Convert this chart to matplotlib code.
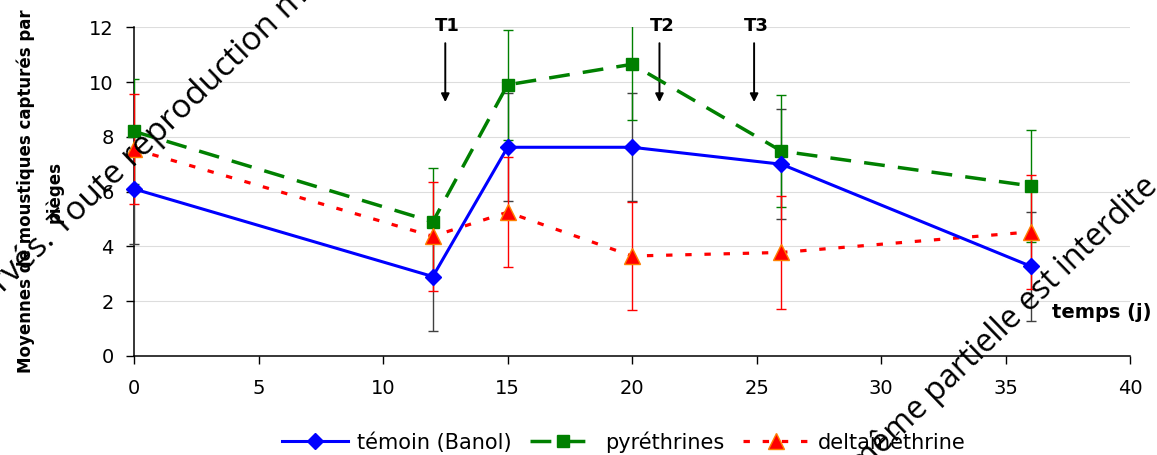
import matplotlib.pyplot as plt

# Mean mosquito catches per trap over time for the three treatments
jours = [0, 12, 15, 20, 26, 36]

temoin = [6.1, 2.9, 7.62, 7.62, 7.0, 3.28]
temoin_err = [2.0, 1.98, 1.97, 1.97, 2.0, 1.99]

pyrethrines = [8.2, 4.9, 9.9, 10.65, 7.48, 6.21]
pyrethrines_err = [1.93, 1.95, 2.0, 2.05, 2.05, 2.04]

deltamethrine = [7.55, 4.37, 5.25, 3.65, 3.78, 4.53]
deltamethrine_err = [2.0, 2.0, 2.0, 1.97, 2.06, 2.07]

labels = ['témoin (Banol)', 'pyréthrines', 'deltaméthrine']

# Treatment dates (arrows)
traitements = ['T1', 'T2', 'T3']
traitement_x = [12.5, 21.1, 24.9]

fig = plt.figure(figsize=(11.57, 4.55), dpi=100)
ax = fig.add_axes([0.1158, 0.2176, 0.861, 0.7224])

# error bars first, then the series lines on top
ax.errorbar(jours, temoin, yerr=temoin_err, fmt='none', ecolor='#404040',
            elinewidth=1.0, capsize=3.5, capthick=1.0, zorder=3, clip_on=False)
ax.errorbar(jours, pyrethrines, yerr=pyrethrines_err, fmt='none', ecolor='#008000',
            elinewidth=1.0, capsize=3.5, capthick=1.0, zorder=3)
ax.errorbar(jours, deltamethrine, yerr=deltamethrine_err, fmt='none', ecolor='#ff0000',
            elinewidth=1.0, capsize=3.5, capthick=1.0, zorder=3, clip_on=False)

l1, = ax.plot(jours, temoin, color='#0000ff', lw=2.2, marker='D', ms=8.5,
              mfc='#0000ff', mec='#0000ff', zorder=5, clip_on=False)
l2, = ax.plot(jours, pyrethrines, color='#008000', lw=2.5, linestyle=(0, (6, 3.8)),
              marker='s', ms=9, mfc='#008000', mec='#008000', zorder=4, clip_on=False)
l3, = ax.plot(jours, deltamethrine, color='#ff0000', lw=2.3, linestyle=(0, (2, 4)),
              marker='^', ms=11, mfc='#ff0000', mec='#ff8000', mew=1.0, zorder=4, clip_on=False)

ax.set_xlim(0, 40)
ax.set_ylim(0, 12)
ax.set_xticks(range(0, 41, 5))
ax.set_yticks(range(0, 13, 2))
ax.tick_params(axis='both', direction='out', length=5.5, width=1.0, labelsize=14)
ax.tick_params(axis='x', pad=11)
ax.tick_params(axis='y', pad=9)
ax.yaxis.grid(True, color='#dddddd', lw=0.8)
ax.set_axisbelow(True)
for side in ['top', 'right']:
    ax.spines[side].set_visible(False)
for side in ['left', 'bottom']:
    ax.spines[side].set_linewidth(1.1)
    ax.spines[side].set_zorder(2)

ax.set_ylabel('Moyennes de moustiques capturés par\npièges', fontsize=12,
              fontweight='bold', linespacing=1.7)
ax.yaxis.set_label_coords(-0.071, 0.5)

ax.text(36.87, 1.57, 'temps (j)', fontsize=14, fontweight='bold',
        ha='left', va='center', clip_on=False)

# treatment arrows
for name, xt in zip(traitements, traitement_x):
    ax.annotate('', xy=(xt, 9.27), xytext=(xt, 11.42),
                arrowprops=dict(arrowstyle='-|>', color='black', lw=1.4,
                                mutation_scale=12, shrinkA=0, shrinkB=0))
    ax.text(xt + 0.1, 12.05, name, fontsize=13, fontweight='bold',
            ha='center', va='center', clip_on=False)

fig.legend([l1, l2, l3], labels, loc='center', bbox_to_anchor=(0.539, 0.0286),
           ncol=3, frameon=False, fontsize=15, handlelength=3.2,
           handletextpad=0.4, columnspacing=0.9)

# diagonal copyright notice
wm = dict(family='Open Sans', color='black', rotation=44,
          rotation_mode='anchor', va='baseline', zorder=10)
fig.text(56 / 1157, 1 - 242 / 455, 'Tous droits réservés.', ha='right',
         fontsize=24, **wm)
fig.text(62 / 1157, 1 - 236 / 455,
         'Toute reproduction même partielle est interdite', ha='left',
         fontsize=24, **wm)
fig.text(1159 / 1157, 1 - 188 / 455,
         'Tous droits réservés. Toute reproduction même partielle est interdite',
         ha='right', fontsize=23, **wm)

fig.savefig('out.png', dpi=100)
